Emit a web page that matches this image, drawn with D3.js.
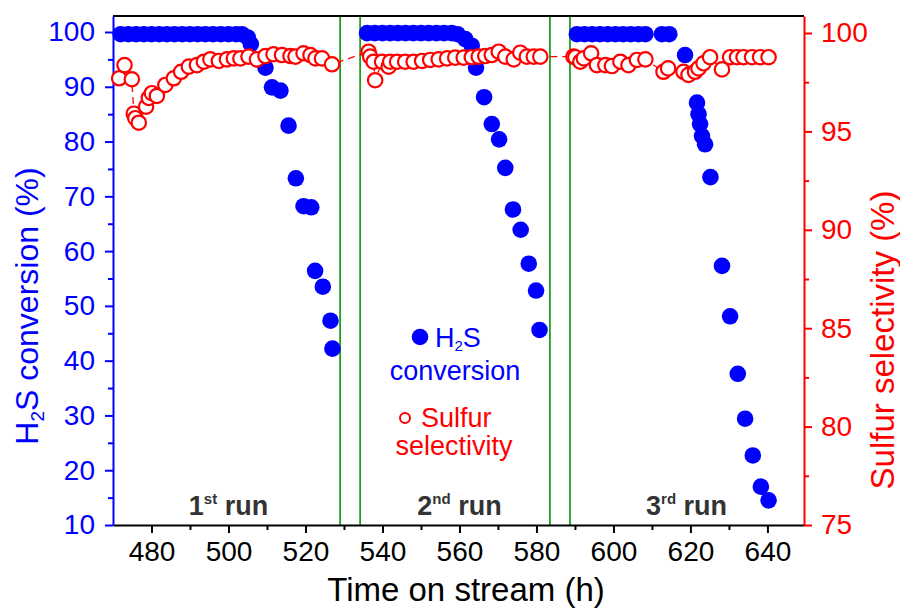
<!DOCTYPE html>
<html><head><meta charset="utf-8">
<script src="https://cdn.jsdelivr.net/npm/d3@7"></script>
<style>body{margin:0;background:#fff}svg{display:block}text{font-family:"Liberation Sans",Arial,sans-serif}</style>
</head><body><svg id="c" width="900" height="608"></svg>
<script>
// H2S conversion (%), filled blue circles
const convTime = [472,474,476,478,480,482,484,486,488,490,492,494,496,498,500,502,503.5,505,505.8,509.6,511.3,513.5,515.6,517.5,519.5,521.5,522.5,524.5,526.5,527,
 536,538,540,542,544,546,548,550,552,554,556,558,559.5,561.5,563.2,564.3,566.4,568.4,570.3,571.9,573.9,575.9,578.0,579.9,580.8,
 590.5,592.5,594.5,596.5,598.5,600.5,602.5,604.5,606.5,608.3,612.6,614.5,618.6,621.7,622.1,622.5,623.0,623.8,625.2,628.2,630.3,632.3,634.2,636.2,638.3,640.3];
const convValue = [99.6,99.6,99.6,99.6,99.6,99.6,99.6,99.6,99.6,99.6,99.6,99.6,99.6,99.6,99.6,99.6,99.6,99.0,97.8,93.5,89.9,89.3,82.9,73.3,68.2,68.0,56.4,53.5,47.3,42.2,
 99.8,99.8,99.8,99.8,99.8,99.8,99.8,99.8,99.8,99.8,99.8,99.8,99.6,98.7,97.5,93.5,88.1,83.2,80.4,75.2,67.6,63.9,57.7,52.8,45.6,
 99.6,99.6,99.6,99.6,99.6,99.6,99.6,99.6,99.6,99.6,99.6,99.6,95.8,87.1,85.0,83.2,81.0,79.5,73.5,57.3,48.1,37.6,29.4,22.7,17.0,14.5];
// Sulfur selectivity (%), open red circles
const selTime = [471.6,473.0,474.9,475.4,475.8,476.7,478.6,479.3,480.1,481.4,483.6,485.8,487.7,489.7,491.8,493.6,495.3,497.5,499.6,501.4,503.1,505.2,507.4,509.6,511.7,513.9,516.1,517.4,519.5,521.3,522.6,524.3,526.9,
 536.4,536.8,537.7,538.1,539.9,541.6,542.0,543.8,545.9,548.1,550.3,552.4,554.6,556.8,558.9,561.1,563.2,565.0,566.7,568.4,570.2,571.9,574.1,575.8,577.5,579.3,581.0,
 589.6,590.1,591.4,592.3,594.2,595.7,597.9,599.6,601.8,603.9,606.1,608.3,613.0,614.2,618.2,619.5,621.2,622.1,623.4,625.1,628.2,630.3,632.1,633.8,636.0,638.1,640.3];
const selValue = [97.7,98.37,97.65,95.9,95.67,95.44,96.26,96.7,96.94,96.8,97.36,97.7,98.03,98.29,98.37,98.54,98.66,98.58,98.66,98.71,98.71,98.8,98.66,98.83,98.92,98.88,98.83,98.8,98.97,98.88,98.71,98.71,98.41,
 99.05,98.8,98.54,97.6,98.54,98.29,98.54,98.54,98.54,98.54,98.58,98.63,98.66,98.71,98.75,98.75,98.77,98.8,98.83,98.88,99.05,98.8,98.66,99.0,98.8,98.8,98.8,
 98.8,98.77,98.54,98.71,98.97,98.37,98.37,98.32,98.54,98.37,98.63,98.66,98.03,98.2,98.03,97.87,98.03,98.2,98.46,98.77,98.15,98.77,98.77,98.77,98.77,98.77,98.77];
const runBreaks = [529, 534.2, 583.5, 588.7];
const runLabels = [{t:500, n:"1", s:"st"}, {t:560, n:"2", s:"nd"}, {t:619, n:"3", s:"rd"}];
const xTicks = [480,500,520,540,560,580,600,620,640];
const xMinor = [490,510,530,550,570,590,610,630];
const yLTicks = [10,20,30,40,50,60,70,80,90,100];
const yLMinor = [15,25,35,45,55,65,75,85,95];
const yRTicks = [75,80,85,90,95,100];
const yRMinor = [77.5,82.5,87.5,92.5,97.5];

const L=113, R=804, T=16, B=525;
const svg = d3.select("#c");
const x = d3.scaleLinear().domain([470, 649.5]).range([L, R]);
const yLb = d3.scaleLinear().domain([10,100]).range([B, 32]);
const yL = d3.scaleLinear().domain([10, yLb.invert(T)]).range([B, T]);
const yRb = d3.scaleLinear().domain([75,100]).range([B, 33]);
const yR = d3.scaleLinear().domain([75, yRb.invert(T)]).range([B, T]);
const BLUE="#0000ff", RED="#ff0000", GREEN="#1f9e1f";

// green run separators
svg.append("g").selectAll("line").data(runBreaks).join("line")
  .attr("x1", d=>x(d)).attr("x2", d=>x(d)).attr("y1", T).attr("y2", B)
  .attr("stroke", GREEN).attr("stroke-width", 1.8);

// top frame
svg.append("line").attr("x1", L).attr("x2", R).attr("y1", T).attr("y2", T).attr("stroke","#000").attr("stroke-width",2);

function styleAxis(g, color, size){
  g.select(".domain").attr("stroke", color).attr("stroke-width", 2);
  g.selectAll(".tick line").attr("stroke", color).attr("stroke-width", 2);
  g.selectAll(".tick text").attr("fill", color).style("font-size", size+"px").style("font-family",'"Liberation Sans",Arial,sans-serif');
}
// x axis
const gx = svg.append("g").attr("transform",`translate(0,${B})`)
  .call(d3.axisBottom(x).tickValues(xTicks).tickSize(8).tickSizeOuter(0).tickPadding(8).tickFormat(d3.format("d")));
styleAxis(gx, "#000", 28);
svg.append("g").attr("transform",`translate(0,${B})`)
  .call(d3.axisBottom(x).tickValues(xMinor).tickSize(5).tickSizeOuter(0).tickFormat(""))
  .call(g=>{g.select(".domain").remove(); g.selectAll("line").attr("stroke","#000").attr("stroke-width",2);});
// left axis
const gl = svg.append("g").attr("transform",`translate(${L},0)`)
  .call(d3.axisLeft(yL).tickValues(yLTicks).tickSize(8).tickSizeOuter(0).tickPadding(10));
styleAxis(gl, BLUE, 28);
svg.append("g").attr("transform",`translate(${L},0)`)
  .call(d3.axisLeft(yL).tickValues(yLMinor).tickSize(5).tickSizeOuter(0).tickFormat(""))
  .call(g=>{g.select(".domain").remove(); g.selectAll("line").attr("stroke",BLUE).attr("stroke-width",2);});
// right axis
const gr = svg.append("g").attr("transform",`translate(${R},0)`)
  .call(d3.axisRight(yR).tickValues(yRTicks).tickSize(8).tickSizeOuter(0).tickPadding(9));
styleAxis(gr, RED, 28);
svg.append("g").attr("transform",`translate(${R},0)`)
  .call(d3.axisRight(yR).tickValues(yRMinor).tickSize(5).tickSizeOuter(0).tickFormat(""))
  .call(g=>{g.select(".domain").remove(); g.selectAll("line").attr("stroke",RED).attr("stroke-width",2);});

// axis titles
svg.append("text").attr("x", 466).attr("y", 601).attr("text-anchor","middle").style("font-size","33px").attr("fill","#000").text("Time on stream (h)");
const lt = svg.append("text").attr("transform","translate(38,306) rotate(-90)").attr("text-anchor","middle").style("font-size","32px").attr("fill",BLUE);
lt.append("tspan").text("H");
lt.append("tspan").text("2").style("font-size","19px").attr("dy",6);
lt.append("tspan").text("S conversion (%)").attr("dy",-6);
svg.append("text").attr("transform","translate(894,340) rotate(-90)").attr("text-anchor","middle").style("font-size","33px").attr("fill",RED).text("Sulfur selectivity (%)");

// run labels
runLabels.forEach(r=>{
  const t = svg.append("text").attr("x", x(r.t)).attr("y", 515).attr("text-anchor","middle").attr("fill","#333").style("font-weight","bold").style("font-size","27px");
  t.append("tspan").text(r.n);
  t.append("tspan").text(r.s).style("font-size","15px").attr("dy",-11);
  t.append("tspan").text(" run").attr("dy",11);
});

// blue conversion points
const conv = convTime.map((t,i)=>({t, v:convValue[i]}));
svg.append("g").selectAll("circle").data(conv).join("circle")
  .attr("cx", d=>x(d.t)).attr("cy", d=>yL(d.v)).attr("r", 8.3).attr("fill", BLUE);

// red selectivity: dashed line + open circles
const sel = selTime.map((t,i)=>({t, v:selValue[i]}));
svg.append("path").datum(sel).attr("fill","none").attr("stroke",RED).attr("stroke-width",1.3).attr("stroke-dasharray","7,5")
  .attr("d", d3.line().x(d=>x(d.t)).y(d=>yR(d.v)));
svg.append("g").selectAll("circle").data(sel).join("circle")
  .attr("cx", d=>x(d.t)).attr("cy", d=>yR(d.v)).attr("r", 7.2).attr("fill","#fff").attr("stroke",RED).attr("stroke-width",2.2);

// legend
svg.append("circle").attr("cx",420).attr("cy",337).attr("r",8.3).attr("fill",BLUE);
const l1 = svg.append("text").attr("x",435).attr("y",347).style("font-size","27px").attr("fill",BLUE);
l1.append("tspan").text("H"); l1.append("tspan").text("2").style("font-size","15px").attr("dy",4); l1.append("tspan").text("S").attr("dy",-4);
svg.append("text").attr("x",455).attr("y",380).attr("text-anchor","middle").style("font-size","27px").attr("fill",BLUE).text("conversion");
svg.append("circle").attr("cx",405).attr("cy",418).attr("r",5).attr("fill","#fff").attr("stroke",RED).attr("stroke-width",2);
svg.append("text").attr("x",421).attr("y",427).style("font-size","27px").attr("fill",RED).text("Sulfur");
svg.append("text").attr("x",454).attr("y",455).attr("text-anchor","middle").style("font-size","27px").attr("fill",RED).text("selectivity");
</script></body></html>
